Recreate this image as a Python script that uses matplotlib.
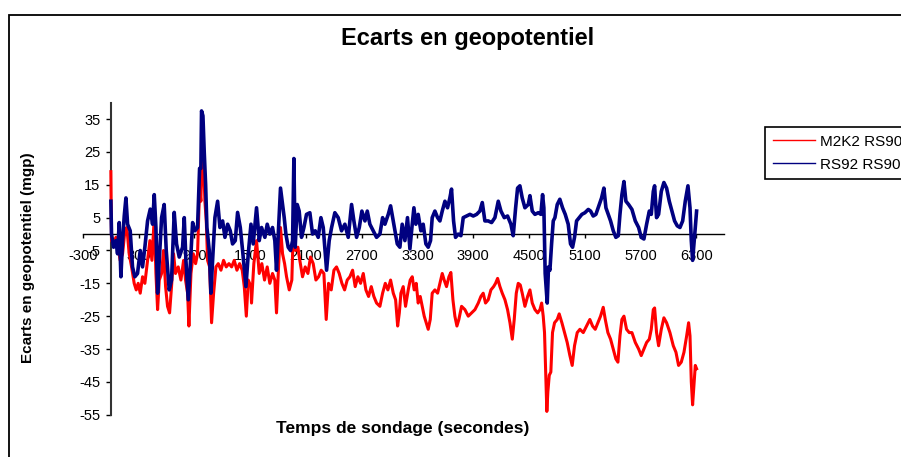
import matplotlib
matplotlib.use("Agg")
import matplotlib.pyplot as plt
from matplotlib.patches import Rectangle

plt.rcParams['font.family'] = ['Liberation Sans', 'DejaVu Sans']
plt.rcParams['axes.unicode_minus'] = False

title = "Ecarts en geopotentiel"
xlabel = "Temps de sondage (secondes)"
ylabel = "Ecarts en geopotentiel (mgp)"
series_names = ["M2K2 RS90", "RS92 RS90"]
x_ticks = list(range(-300, 6301, 600))
y_ticks = list(range(-55, 36, 10))

t_red = [0,7,29,54,79,100,126,151,172,197,
         223,251,273,294,316,341,366,395,420,442,
         467,485,503,521,546,567,589,610,632,653,
         675,696,725,754,783,804,826,840,862,887,
         912,933,955,969,984,998,1012,1027,1041,1063,
         1084,1106,1131,1156,1185,1213,1242,1271,1300,1328,
         1357,1386,1414,1436,1458,1479,1508,
         1514,1539,1568,1597,1625,1654,1683,1711,1740,1765,
         1783,1805,1826,1848,1870,1891,1920,1948,1970,1988,
         2013,2034,2063,2092,2121,2149,2178,2207,2236,2264,
         2293,2318,2343,2372,2401,2429,2458,2487,2516,2544,
         2573,2602,2630,2659,2688,2717,2745,2774,2803,2831,
         2860,2896,2925,2954,2982,3011,3040,3065,3087,
         3105,3122,3147,3172,3201,3222,3244,3265,3287,3308,
         3330,3351,3373,3394,3416,3438,3459,3488,3517,3542,
         3567,3588,3613,3639,3660,3682,3703,3725,3746,3775,
         3811,3847,3883,3919,3955,3983,4008,4033,4062,4091,
         4120,4141,4163,4188,4213,4242,4270,4296,4321,4342,
         4364,4385,4407,4428,4457,4486,4511,4536,4565,4594,
         4619,
         4637,4654,4668,4683,4693,4704,4719,4736,4754,4776,
         4805,4826,4855,4884,4912,4941,4966,4991,5020,5049,
         5085,5121,5156,5185,5214,5243,5271,5300,5322,5350,
         5379,5408,5436,5458,5480,5501,5523,5551,5580,5609,
         5645,5681,5709,5738,5767,5796,5817,5839,5853,5874,
         5896,5925,5953,5982,6018,6054,6083,6111,6140,6169,
         6198,6219,6234,6248,6262,6277,6291,6305]
v_red = [19,-2,-3,-1,-4,-8,-6,1,2,-6,
         -10,-15,-17,-15,-18,-13,-15,-8,-2,-8,
         5,-12,-23,-14,-12,-5,-16,-22,-24,-16,
         -6,-12,-10,-14,-8,-14,-18,-28,-12,-6,
         -9,-6,14,10,27,22,10,4,-8,-10,
         -27,-18,-10,-9,-11,-8,-10,-9,-10,-8,
         -11,-9,-11,-16,-25,-14,-16,
         -21,-9,-2,-12,-9,-14,-10,-15,-12,-14,
         -24,-10,2,-6,-9,-13,-17,-14,7.6,-5,
         -4,-8,-13,-10,-12,-7,-9,-14,-13,-11,
         -12,-26,-15,-17,-11,-10,-12,-15,-17,-14,
         -13,-11,-16,-13,-15,-12,-17,-19,-16,-19,
         -21,-22,-18,-15,-17,-14,-18,-20,-28,
         -24,-18,-16,-22,-17,-14,-13,-17,-15,-21,
         -19,-22,-25,-27,-29,-26,-18,-17,-18,-15,
         -12,-14,-16,-13,-11.7,-20,-25,-28,-26,-22,
         -23,-25,-24,-23,-21,-19,-18,-21,-20,-17,
         -16,-15,-13.5,-16,-18,-20,-23,-27,-32,-26,
         -18,-15,-15.5,-18,-22,-19,-17,-21,-23,-24,
         -23,
         -21,-25,-30,-44,-54,-48,-43,-42,-30,-27,
         -26,-24.3,-27,-30,-33,-37,-40,-34,-30,-29,
         -30,-28,-26,-28,-29,-27,-25,-22.3,-26,-30,
         -32,-35,-38,-39,-31,-26,-25,-29,-30,-30,
         -33,-35,-37,-35,-33,-32,-29,-23,-22.5,-30,
         -34,-29,-25.5,-27,-30,-34,-36,-40,-39,-36,
         -31,-27,-31,-45,-52,-46,-40,-41]

t_blue = [0,7,29,54,72,90,108,126,144,162,
          180,208,233,258,287,316,341,366,395,424,
          449,467,485,503,521,546,574,596,628,653,
          682,707,736,772,790,808,833,854,880,905,
          933,955,969,976,991,1005,1020,1034,1059,1077,
          1095,1120,1149,1174,1203,1228,1257,1285,1310,1339,
          1364,1393,1418,1454,1479,1508,
          1532,1568,1597,1622,1658,1683,1711,1740,1765,1783,
          1805,1826,1844,1866,1884,1909,1934,1956,1970,1984,
          2006,2027,2052,2078,2106,2142,2171,2200,2232,2261,
          2286,2322,2350,2376,2411,2447,2483,2519,2555,2591,
          2616,2645,2674,2702,2735,2760,2788,2824,2860,2896,
          2925,2950,2986,3011,3040,3083,
          3111,3136,3165,3193,3219,3244,3262,3283,3308,3337,
          3362,3391,3416,3441,3459,3488,3517,3542,3567,3596,
          3624,3649,3667,3689,3710,3739,3768,3793,3829,3865,
          3901,3937,3972,3998,4026,4062,4098,4134,4170,4199,
          4235,4270,4306,4331,4357,4378,4403,4428,4457,4493,
          4511,4536,4565,4601,4629,4647,
          4661,4675,4690,4697,4711,4726,4744,4762,4780,4805,
          4833,4862,4891,4923,4948,4970,4991,5013,5042,5070,
          5103,5139,5164,5192,5221,5257,5282,5307,5329,5354,
          5379,5408,5436,5462,5480,5501,5523,5544,5573,5609,
          5645,5681,5709,5738,5767,5796,5817,5839,5853,5874,
          5896,5925,5953,5982,6011,6040,6068,6097,6126,6155,
          6183,6212,6234,6248,6262,6277,6291,6305]
v_blue = [10,0,-4,-2,-6,3.5,-13,-2,5.5,11,
          3,1,-10,-13,-12,-5,-10,-4,4,7.6,
          3,12,2,-18,-8,5,9,-5,-17,-14,
          6.6,-3,-7,-4,5,-8,-20,-10,3.5,1,
          2,20,20,37.5,36,25,15,2,-5,-18,
          -8,5,10,2,4,-1,3,1,-3,-2,
          6.6,2,-5,-16,-6,3,
          -3,8,-2,2,-1,3,0,2,-2,-11,
          2,14,10,5,0,-4,-5,-2,23,-4,
          9,7,-1,2,6,6.5,0,1,-1,5,
          2,-11,-2,2,6.5,5,1,3,-1,9,
          4,-1,2,7,4,7,3,1,-1,0,
          5,3,6,8.6,4,-3,
          -4,3,-2,5,-4.5,3,8,3,6,1,
          3,-3,-4,-2,5,7,5,4,7,10,
          8,11,13.7,4,-1,0,-0.5,5,5.5,6,
          5.5,6,7,9.6,4,4,3.5,5,10,7,
          5,5.5,3,-0.5,8,14,14.7,11,8,9,
          11.7,7,6,6.5,6,12,
          8,-12,-18,-21,-10,-11,-3,4,5,9,
          10.6,8,6,3,-3,-4,-1,4,5,6,
          6.5,7.5,7,5.5,6,9,11,14,8,6,
          4,1,-1,-0.5,6,12,16,10,9,7.5,
          4,2,-1,-1.5,3,7,6,13,14.7,5,
          6,13,15.7,14,10,7,4,2.5,2,4,
          10,14.7,8,-2,-8,-3,2,7]

W, H = 901, 457
fig = plt.figure(figsize=(W/100, H/100), dpi=100)
fig.patch.set_facecolor('white')

# chart area border
fig.add_artist(Rectangle((9/W, -0.2), 1.2, (1 - 15/H) + 0.2, transform=fig.transFigure,
                         fill=False, edgecolor='black', linewidth=1.3, clip_on=False))

ax = fig.add_axes([83/W, (H - 414.7)/H, 641/W, 312/H])
ax.set_facecolor('none')

ax.plot(t_red, v_red, color='#FF0000', linewidth=2.2, label=series_names[0], zorder=3)
ax.plot(t_blue, v_blue, color='#000080', linewidth=2.6, label=series_names[1], zorder=4)

ax.set_xlim(-300, 6600)
ax.set_ylim(-55, 40)

for s in ['top', 'right']:
    ax.spines[s].set_visible(False)
ax.spines['left'].set_position(('data', 0))
ax.spines['bottom'].set_position(('data', 0))
ax.spines['left'].set_linewidth(1.5)
ax.spines['left'].set_color('#333333')
ax.spines['bottom'].set_linewidth(1.0)
ax.spines['bottom'].set_color('black')

ax.set_xticks(x_ticks)
ax.set_xticklabels([str(v) for v in x_ticks])
ax.set_yticks(y_ticks)
ax.set_yticklabels([str(v) for v in y_ticks])
ax.tick_params(axis='x', direction='out', length=3, width=1, pad=7.5, labelsize=10.5, colors='black')
ax.tick_params(axis='y', direction='out', length=3.6, width=1, pad=4, labelsize=10.5, colors='black')

fig.text(468/W, 1 - 38/H, title, ha='center', va='center', fontsize=17, fontweight='bold')
fig.text(403/W, 1 - 428/H, xlabel, ha='center', va='center', fontsize=12.5, fontweight='bold')
fig.text(28/W, 1 - 258/H, ylabel, ha='center', va='center', rotation=90, fontsize=11, fontweight='bold')

leg = fig.legend(loc='upper left', bbox_to_anchor=(765/W, 1 - 127/H), frameon=True, fancybox=False,
                 edgecolor='black', framealpha=1, fontsize=11, handlelength=2.8, handletextpad=0.3,
                 borderpad=0.5, labelspacing=0.6, borderaxespad=0)
leg.get_frame().set_linewidth(1.2)
for h in leg.get_lines():
    h.set_linewidth(1.0)

fig.savefig('out.png', dpi=100)
